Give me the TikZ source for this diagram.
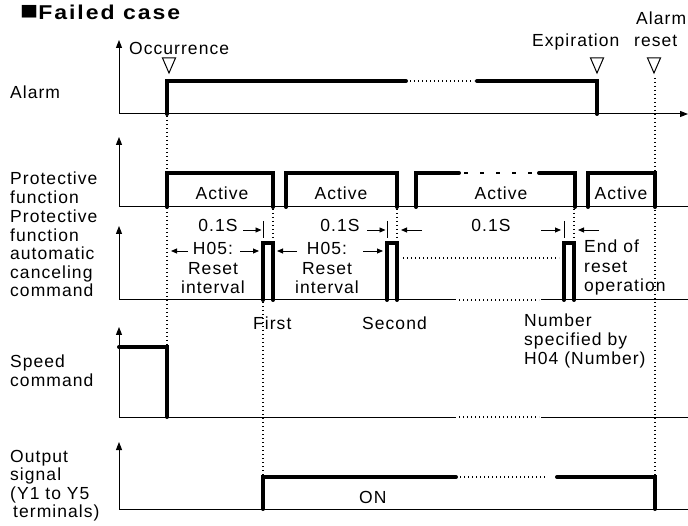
\documentclass[tikz,border=0pt]{standalone}
\usepackage{fontspec}
\setmainfont{Liberation Sans}
\newfontfamily\lblfont[LetterSpace=6]{Liberation Sans}
\newfontfamily\titlefont[LetterSpace=10,FakeStretch=1.15]{Liberation Sans Bold}
\usetikzlibrary{arrows.meta}

\begin{document}
\begin{tikzpicture}[x=1pt,y=-1pt,
  sig/.style={line width=4pt, line cap=round, line join=miter},
  axisline/.style={line width=1pt},
  upaxis/.style={line width=1pt, -{Triangle[length=8pt,width=6pt]}},
  dotline/.style={line width=1.2pt, dash pattern=on 1.2pt off 2.8pt},
  dashline/.style={line width=1.2pt, dash pattern=on 4pt off 12pt},
  darrow/.style={line width=0.9pt, -{Triangle[length=6pt,width=5pt]}},
  stopbar/.style={line width=1pt},
  % multi-line labels are placed by the baseline of their last line
  lbl/.style={font=\lblfont\fontsize{17.5}{18.5}\selectfont, inner sep=0pt, anchor=base west, align=left},
  clbl/.style={font=\lblfont\fontsize{17.5}{19.5}\selectfont, inner sep=0pt, anchor=base, align=center},
  llbl/.style={font=\lblfont\fontsize{17.5}{19.5}\selectfont, inner sep=0pt, anchor=base west, align=left},
  tri/.style={line width=1pt, line join=miter}
]
\useasboundingbox (0,0) rectangle (688,526);
\fill[white] (0,0) rectangle (688,526);

% title
\node[font=\titlefont\fontsize{20}{24}\selectfont, inner sep=0pt, anchor=base west] (title) at (20,19.5) {\smash{\fontsize{26}{24}\selectfont ■}Failed case};

% row labels
\node[lbl] (lalarm) at (10,99) {Alarm};
\node[lbl] (lprot) at (10,203.5) {Protective\\function};
\node[lbl] (lcancel) at (10,297) {Protective\\function\\automatic\\canceling\\command};
\node[lbl] (lspeed) at (10,386.5) {Speed\\command};
\node[lbl] (lout) at (10,517.5) {Output\\signal\\(Y1 to Y5\\\hspace{3pt}terminals)};

% event labels and markers
\node[lbl] (occ) at (129,55) {Occurrence};
\node[lbl] (exp) at (532,47) {Expiration};
\node[lbl] (areset1) at (636,25) {Alarm};
\node[lbl] (areset2) at (634,47) {reset};
\draw[tri] (162.5,58) -- (175.5,58) -- (169,73) -- cycle;
\draw[tri] (590.5,58) -- (603.5,58) -- (597,73) -- cycle;
\draw[tri] (647.5,58) -- (660.5,58) -- (654,73) -- cycle;

% axes
\draw[axisline, -{Triangle[length=8pt,width=6pt]}] (119,114) -- (688,114);
\draw[upaxis] (119,114) -- (119,40);
\draw[axisline] (119,207) -- (688,207);
\draw[upaxis] (119,207) -- (119,137);
\draw[axisline] (119,300) -- (456,300) (541,300) -- (688,300);
\draw[upaxis] (119,300) -- (119,226);
\draw[axisline] (119,417) -- (456,417) (541,417) -- (688,417);
\draw[upaxis] (119,417) -- (119,327);
\draw[axisline] (119,509) -- (688,509);
\draw[upaxis] (119,509) -- (119,442);

% dotted guides
\draw[dotline] (167,116) -- (167,345);
\draw[dotline] (263,302) -- (263,475);
\draw[dotline] (273,209) -- (273,241);
\draw[dotline] (397,209) -- (397,241);
\draw[dotline] (574,209) -- (574,241);
\draw[dotline] (655,78) -- (655,475);
\draw[dotline] (403,258) -- (559,258);
\draw[dotline] (410,81) -- (474,81);
\draw[dotline] (459,300) -- (539,300);
\draw[dotline] (459,417) -- (539,417);
\draw[dotline] (460,477) -- (545,477);
\draw[dashline] (464,173) -- (539,173);

% alarm signal
\draw[sig] (167,114) -- (167,81) -- (406,81);
\draw[sig] (477,81) -- (597,81) -- (597,114);

% protective function
\draw[sig] (167,207) -- (167,173) -- (273,173) -- (273,207);
\draw[sig] (286,207) -- (286,173) -- (397,173) -- (397,207);
\draw[sig] (416,207) -- (416,173) -- (459,173);
\draw[sig] (539,173) -- (575,173) -- (575,207);
\draw[sig] (588,207) -- (588,173) -- (655,173) -- (655,207);
\node[lbl, anchor=base] (act1) at (222,200) {Active};
\node[lbl, anchor=base] (act2) at (341,200) {Active};
\node[lbl, anchor=base] (act3) at (501,200) {Active};
\node[lbl, anchor=base] (act4) at (621,200) {Active};

% automatic canceling command
\draw[sig] (263,300) -- (263,243) -- (273,243) -- (273,300);
\draw[sig] (387,300) -- (387,243) -- (397,243) -- (397,300);
\draw[sig] (564,300) -- (564,243) -- (574,243) -- (574,300);

% 0.1S marks
\node[lbl, anchor=base] (t1) at (218,232) {0.1S};
\node[lbl, anchor=base] (t2) at (340,232) {0.1S};
\node[lbl, anchor=base] (t3) at (491,232) {0.1S};
\draw[darrow] (243,230) -- (261.5,230);
\draw[stopbar] (263,221) -- (263,238);
\draw[darrow] (367,230) -- (385.5,230);
\draw[stopbar] (387,221) -- (387,238);
\draw[darrow] (422,230) -- (401,230);
\draw[darrow] (541,230) -- (561,230);
\draw[stopbar] (564,221) -- (564,238);
\draw[darrow] (599,230) -- (578,230);

% reset interval marks
\node[clbl] (h1) at (213,294) {H05:\\Reset\\interval};
\node[clbl] (h2) at (327,294) {H05:\\Reset\\interval};
\draw[darrow] (188,251) -- (171,251);
\draw[darrow] (240,251) -- (259,251);
\draw[darrow] (297,251) -- (277,251);
\draw[darrow] (363,251) -- (383,251);
\node[llbl] (endop) at (584,292) {End of\\reset\\operation};

% count labels
\node[lbl] (first) at (253,330) {First};
\node[lbl] (second) at (362,330) {Second};
\node[font=\lblfont\fontsize{17.5}{19}\selectfont, inner sep=0pt, anchor=base west, align=left] (nspec) at (524,365) {Number\\specified by\\H04 (Number)};

% speed command
\draw[sig] (119,347) -- (167,347) -- (167,417);

% output signal
\draw[sig] (263,509) -- (263,477) -- (456,477);
\draw[sig] (557,477) -- (655,477) -- (655,509);
\node[lbl] (on) at (359,503) {ON};
\end{tikzpicture}
\end{document}
